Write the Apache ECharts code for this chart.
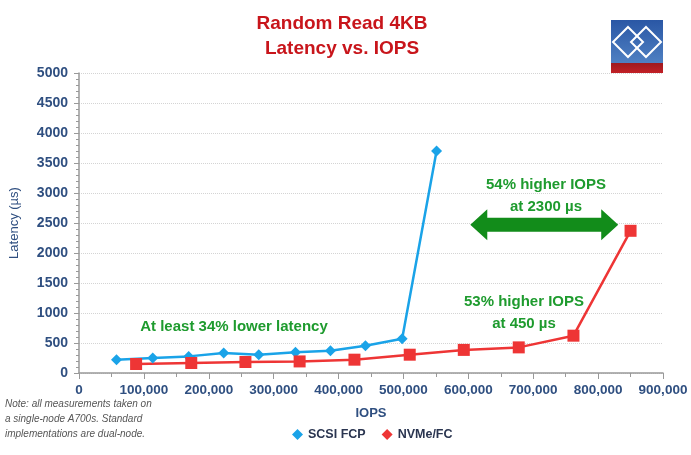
<!DOCTYPE html>
<html><head><meta charset="utf-8">
<script src="https://cdn.jsdelivr.net/npm/echarts@6/dist/echarts.min.js"></script>
<style>html,body{margin:0;padding:0;background:#fff}#c{width:691px;height:455px}</style>
</head><body><div id="c"></div>
<script>
// Data (IOPS, latency µs)
const scsiIops = [57800, 113700, 169000, 223000, 277000, 333600, 387500, 441400, 498000, 551000];
const scsiLat  = [222, 250, 277, 333, 305, 345, 372, 455, 572, 3700];
const nvmeIops = [88000, 173000, 256500, 340000, 424500, 509700, 593000, 677700, 762000, 850000];
const nvmeLat  = [150, 167, 183, 193, 222, 305, 385, 427, 622, 2370];
const seriesNames = ['SCSI FCP', 'NVMe/FC'];
const yTicks = [0, 500, 1000, 1500, 2000, 2500, 3000, 3500, 4000, 4500, 5000];
const xTicks = [0, 100000, 200000, 300000, 400000, 500000, 600000, 700000, 800000, 900000];

const FONT = '"Liberation Sans", Arial, sans-serif';
const AXC = '#2F4F80';
const GREEN = '#1E9B2E';

const chart = echarts.init(document.getElementById('c'), null, {renderer: 'canvas'});
const zip = (a, b) => a.map((v, i) => [v, b[i]]);

chart.setOption({
  animation: false,
  title: {
    text: 'Random Read 4KB\nLatency vs. IOPS',
    left: 337, top: 6, textAlign: 'center',
    textStyle: {fontFamily: FONT, fontSize: 19, fontWeight: 'bold', color: '#C8151B', lineHeight: 25}
  },
  grid: {left: 79, right: 28, top: 73, bottom: 82},
  legend: {
    data: seriesNames.map(n => ({name: n, icon: 'diamond'})),
    bottom: 9, left: 287, itemWidth: 11, itemHeight: 11, itemGap: 16,
    textStyle: {fontFamily: FONT, fontSize: 12.5, fontWeight: 'bold', color: '#2A3550'}
  },
  xAxis: {
    type: 'value', min: xTicks[0], max: xTicks[xTicks.length - 1], interval: 100000,
    name: 'IOPS', nameLocation: 'middle', nameGap: 34,
    nameTextStyle: {fontFamily: FONT, fontSize: 13, fontWeight: 'bold', color: AXC},
    axisLine: {lineStyle: {color: '#999', width: 1.5}},
    axisTick: {show: true, length: 6, lineStyle: {color: '#999'}},
    minorTick: {show: true, splitNumber: 2, length: 4, lineStyle: {color: '#999'}},
    splitLine: {show: false},
    axisLabel: {fontFamily: FONT, fontSize: 13.5, fontWeight: 'bold', color: AXC, margin: 10,
      formatter: v => v.toLocaleString('en-US')}
  },
  yAxis: {
    type: 'value', min: yTicks[0], max: yTicks[yTicks.length - 1], interval: 500,
    name: 'Latency (µs)', nameLocation: 'middle', nameGap: 58, nameRotate: 90,
    nameTextStyle: {fontFamily: FONT, fontSize: 13, color: AXC},
    axisLine: {show: true, lineStyle: {color: '#999', width: 1.5}},
    axisTick: {show: true, length: 5, lineStyle: {color: '#999'}},
    minorTick: {show: true, splitNumber: 5, length: 3, lineStyle: {color: '#999'}},
    splitLine: {show: true, lineStyle: {color: '#d4d4d4', type: 'dotted'}},
    axisLabel: {fontFamily: FONT, fontSize: 14, fontWeight: 'bold', color: AXC, margin: 11,
      formatter: v => String(v)}
  },
  series: [
    {name: seriesNames[0], type: 'line', data: zip(scsiIops, scsiLat),
     symbol: 'diamond', symbolSize: 11, color: '#1AA3E8',
     lineStyle: {width: 2.5, color: '#1AA3E8'}, itemStyle: {color: '#1AA3E8'}},
    {name: seriesNames[1], type: 'line', data: zip(nvmeIops, nvmeLat),
     symbol: 'rect', symbolSize: 12, color: '#EE3535',
     lineStyle: {width: 2.5, color: '#EE3535'}, itemStyle: {color: '#EE3535'}}
  ]
});

// Annotations
function px(x, y) { return chart.convertToPixel({gridIndex: 0}, [x, y]); }
const arrowFrom = 603000, arrowTo = 831000, arrowAt = 2470;
const a = px(arrowFrom, arrowAt), b = px(arrowTo, arrowAt);
const hb = 7, hh = 15.5, hl = 17;
const cy = a[1];
const arrowPts = [
  [a[0], cy], [a[0] + hl, cy - hh], [a[0] + hl, cy - hb], [b[0] - hl, cy - hb], [b[0] - hl, cy - hh],
  [b[0], cy], [b[0] - hl, cy + hh], [b[0] - hl, cy + hb], [a[0] + hl, cy + hb], [a[0] + hl, cy + hh]
];
const txt = (x, y, t) => ({type: 'text', x, y, style: {text: t, fill: GREEN, font: 'bold 15px ' + FONT,
  textAlign: 'center', textVerticalAlign: 'middle', lineHeight: 22}, z: 10});

const lx = 611, ly = 20, lw = 52;
chart.setOption({
  graphic: [
    {type: 'polygon', shape: {points: arrowPts}, style: {fill: '#128C1A'}, z: 10},
    txt(234, 327, 'At least 34% lower latency'),
    txt(524, 313, '53% higher IOPS\nat 450 µs'),
    txt(546, 196, '54% higher IOPS\nat 2300 µs'),
    {type: 'text', left: 5, top: 397, style: {
      text: 'Note: all measurements taken on\na single-node A700s. Standard\nimplementations are dual-node.',
      fill: '#555', font: 'italic 10px ' + FONT, lineHeight: 15}},
    // logo
    {type: 'rect', shape: {x: lx, y: ly, width: lw, height: 43},
     style: {fill: new echarts.graphic.LinearGradient(0, 0, 0, 1, [{offset: 0, color: '#2A57A5'}, {offset: 1, color: '#4F80C2'}])}, z: 20},
    {type: 'rect', shape: {x: lx, y: ly + 43, width: lw, height: 10},
     style: {fill: new echarts.graphic.LinearGradient(0, 0, 0, 1, [{offset: 0, color: '#9E1A1E'}, {offset: 1, color: '#C22026'}])}, z: 20},
    {type: 'polygon', shape: {points: [[628, 27], [643, 42], [628, 57], [613, 42]]},
     style: {fill: 'none', stroke: '#fff', lineWidth: 2}, z: 21},
    {type: 'polygon', shape: {points: [[646, 27], [661, 42], [646, 57], [631, 42]]},
     style: {fill: 'none', stroke: '#fff', lineWidth: 2}, z: 21}
  ]
});
</script>
</body></html>
